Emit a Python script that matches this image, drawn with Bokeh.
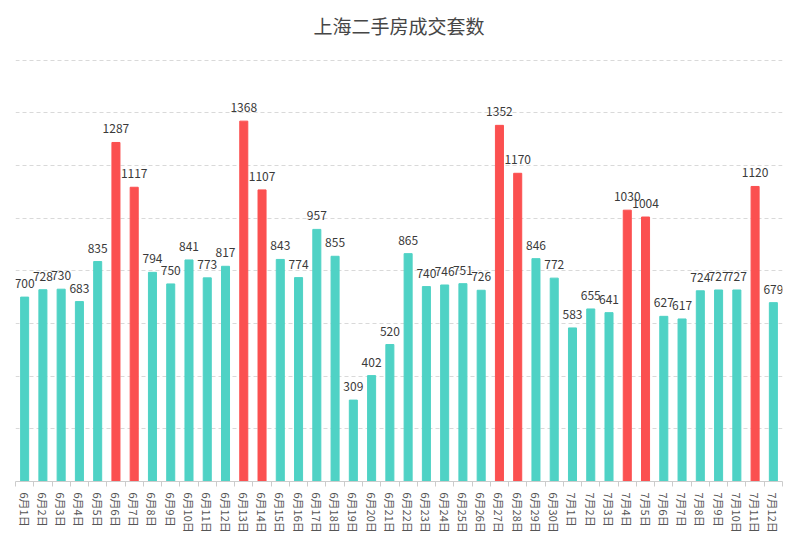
from bokeh.plotting import figure
from bokeh.models import ColumnDataSource, Range1d, FixedTicker, Label
from bokeh.core.properties import value
from bokeh.embed import file_html
from bokeh.resources import INLINE

dates = ["6月1日", "6月2日", "6月3日", "6月4日", "6月5日", "6月6日", "6月7日", "6月8日", "6月9日", "6月10日",
         "6月11日", "6月12日", "6月13日", "6月14日", "6月15日", "6月16日", "6月17日", "6月18日", "6月19日", "6月20日",
         "6月21日", "6月22日", "6月23日", "6月24日", "6月25日", "6月26日", "6月27日", "6月28日", "6月29日", "6月30日",
         "7月1日", "7月2日", "7月3日", "7月4日", "7月5日", "7月6日", "7月7日", "7月8日", "7月9日", "7月10日",
         "7月11日", "7月12日"]
counts = [700, 728, 730, 683, 835, 1287, 1117, 794, 750, 841,
          773, 817, 1368, 1107, 843, 774, 957, 855, 309, 402,
          520, 865, 740, 746, 751, 726, 1352, 1170, 846, 772,
          583, 655, 641, 1030, 1004, 627, 617, 724, 727, 727,
          1120, 679]
highlight = ["6月6日", "6月7日", "6月13日", "6月14日", "6月27日", "6月28日", "7月4日", "7月5日", "7月11日"]
grid_values = [200, 400, 600, 800, 1000, 1200, 1400, 1600]
title_text = "上海二手房成交套数"

TEAL = "#4fd2c5"
RED = "#fb5050"
FONT = "Noto Sans CJK SC"

xs = list(range(len(dates)))
colors = [RED if d in highlight else TEAL for d in dates]
src = ColumnDataSource(dict(x=xs, y=counts, c=colors, t=[str(v) for v in counts]))

p = figure(width=796, height=538, output_backend="svg", toolbar_location=None,
           x_range=Range1d(-0.5, len(dates) - 0.5), y_range=Range1d(0, 1788),
           min_border_left=15, min_border_right=14, min_border_top=10, min_border_bottom=57)
p.outline_line_color = None
p.background_fill_color = "white"
p.border_fill_color = "white"

p.vbar(x="x", top="y", width=0.44, color="c", source=src)
p.text(x="x", y="y", text="t", source=src, text_align="center", text_baseline="bottom",
       y_offset=-9, text_font_size="12px", text_color="#3a3a3a", text_font=value(FONT))

p.yaxis.visible = False
p.ygrid.ticker = FixedTicker(ticks=grid_values)
p.ygrid.grid_line_color = "#d9d9d9"
p.ygrid.grid_line_dash = "4 3"
p.xgrid.visible = False

ax = p.xaxis[0]
ax.ticker = FixedTicker(ticks=xs, minor_ticks=[i - 0.5 for i in range(len(dates) + 1)])
ax.major_label_overrides = {i: d for i, d in enumerate(dates)}
ax.major_label_orientation = "vertical"
ax.major_tick_line_color = None
ax.major_tick_out = 5
ax.minor_tick_line_color = "#cccccc"
ax.minor_tick_in = 0
ax.minor_tick_out = 5
ax.axis_line_color = "#cccccc"
ax.major_label_standoff = 6
ax.major_label_text_font = FONT
ax.major_label_text_font_size = "11px"
ax.major_label_text_color = "#555555"

p.add_layout(Label(x=(len(dates) - 1) / 2, y=1730, text=title_text, text_align="center",
                   text_baseline="middle", text_font=FONT, text_font_size="19px",
                   text_color="#464646"))

open("out.html", "w").write(file_html(p, INLINE))
